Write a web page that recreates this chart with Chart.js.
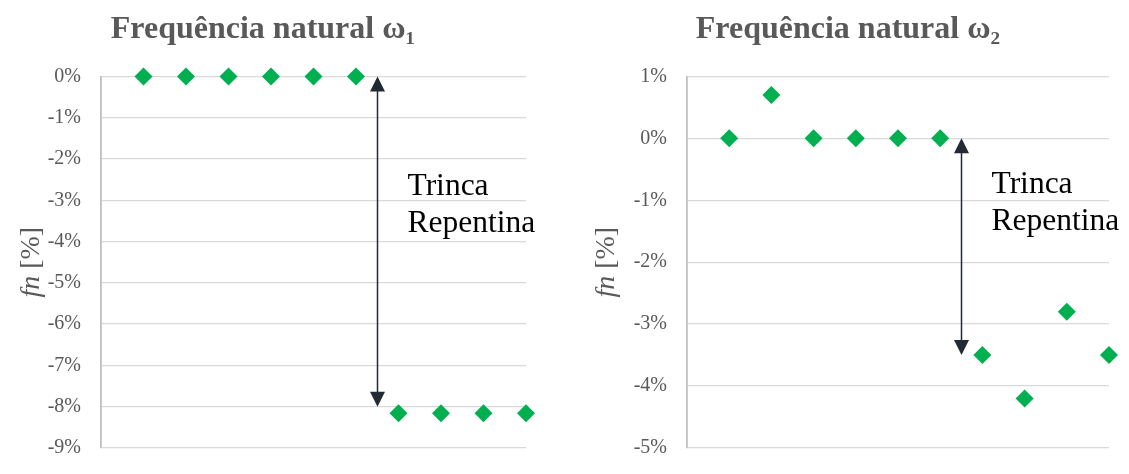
<!DOCTYPE html>
<html>
<head>
<meta charset="utf-8">
<script src="https://cdn.jsdelivr.net/npm/chart.js@4.4.1/dist/chart.umd.min.js"></script>
<style>
  html, body { margin: 0; padding: 0; background: #fff; }
  #wrap { position: relative; width: 1129px; height: 474px; }
  .box { position: absolute; top: 0; height: 474px; }
  #box1 { left: 0; width: 560px; }
  #box2 { left: 560px; width: 569px; }
</style>
</head>
<body>
<div id="wrap">
  <div class="box" id="box1"><canvas id="chart1"></canvas></div>
  <div class="box" id="box2"><canvas id="chart2"></canvas></div>
</div>
<script>
// --- dados ---
const xPos = [1, 2, 3, 4, 5, 6, 7, 8, 9, 10];
const fn1Values = [0, 0, 0, 0, 0, 0, -8.16, -8.16, -8.16, -8.16];
const fn2Values = [0, 0.7, 0, 0, 0, 0, -3.5, -4.2, -2.8, -3.5];

const title1 = 'Frequência natural ω₁';
const title2 = 'Frequência natural ω₂';
const yRange1 = [-9, 0];
const yRange2 = [-5, 1];

// seta "trinca repentina": posição x e valores de início/fim
const arrow1 = [6.5, 0, -8];
const arrow2 = [6.5, 0, -3.5];
const noteLines = ['Trinca', 'Repentina'];

const grey = '#595959';
const green = '#00b050';
const serif = '"Liberation Serif", "Times New Roman", serif';

// desenha seta, texto e título do eixo y (fn em itálico)
const annotPlugin = {
    id: 'annot',
    afterDatasetsDraw(chart, args, opts) {
        const ctx = chart.ctx;
        const xs = chart.scales.x, ys = chart.scales.y;
        const ax = Math.round(xs.getPixelForValue(opts.arrow[0])) + 0.5;
        const y0 = ys.getPixelForValue(opts.arrow[1]);
        const y1 = ys.getPixelForValue(opts.arrow[2]);
        const head = 15, hw = 7.5;
        ctx.save();
        ctx.strokeStyle = '#222a35';
        ctx.fillStyle = '#222a35';
        ctx.lineWidth = 1.5;
        ctx.beginPath();
        ctx.moveTo(ax, y0 + head - 1);
        ctx.lineTo(ax, y1 - head + 1);
        ctx.stroke();
        ctx.beginPath();
        ctx.moveTo(ax, y0);
        ctx.lineTo(ax - hw, y0 + head);
        ctx.lineTo(ax + hw, y0 + head);
        ctx.closePath();
        ctx.fill();
        ctx.beginPath();
        ctx.moveTo(ax, y1);
        ctx.lineTo(ax - hw, y1 - head);
        ctx.lineTo(ax + hw, y1 - head);
        ctx.closePath();
        ctx.fill();

        // texto
        ctx.fillStyle = '#000';
        ctx.font = '31.5px ' + serif;
        ctx.textAlign = 'left';
        ctx.textBaseline = 'alphabetic';
        noteLines.forEach((t, i) => {
            ctx.fillText(t, ax + opts.textDx, chart.chartArea.top + opts.textDy + i * 37);
        });

        // título do eixo y
        const midY = (chart.chartArea.top + chart.chartArea.bottom) / 2;
        ctx.translate(opts.yTitleX, midY);
        ctx.rotate(-Math.PI / 2);
        ctx.fillStyle = grey;
        ctx.textBaseline = 'middle';
        const fItal = 'italic 28px ' + serif;
        const fReg = '28px ' + serif;
        ctx.font = fItal;
        const w1 = ctx.measureText('fn').width;
        ctx.font = fReg;
        const w2 = ctx.measureText(' [%]').width;
        const start = -(w1 + w2) / 2;
        ctx.font = fItal;
        ctx.fillText('fn', start, 0);
        ctx.font = fReg;
        ctx.fillText(' [%]', start + w1, 0);
        ctx.restore();
    }
};

function makeChart(id, title, values, yRange, arrow, pad, yWidth, annot) {
    const points = xPos.map((x, i) => ({ x: x, y: values[i] }));
    return new Chart(document.getElementById(id), {
        type: 'scatter',
        data: {
            datasets: [{
                data: points,
                pointStyle: 'rectRot',
                pointRadius: 9,
                pointHoverRadius: 9,
                backgroundColor: green,
                borderColor: green,
                borderWidth: 0,
                clip: false
            }]
        },
        options: {
            responsive: true,
            maintainAspectRatio: false,
            animation: false,
            layout: { padding: pad, autoPadding: false },
            plugins: {
                legend: { display: false },
                tooltip: { enabled: false },
                title: {
                    display: true,
                    text: title,
                    color: grey,
                    font: { family: serif, size: 32, weight: 'bold', lineHeight: 1.2 },
                    padding: { top: 11, bottom: 27 }
                },
                annot: Object.assign({ arrow: arrow }, annot)
            },
            scales: {
                x: { type: 'linear', display: false, min: 0, max: 10 },
                y: {
                    min: yRange[0],
                    max: yRange[1],
                    afterFit: (s) => {
                        s.width = yWidth;
                        s.paddingTop = 0;
                        s.paddingBottom = 0;
                    },
                    ticks: {
                        stepSize: 1,
                        padding: 20,
                        color: grey,
                        font: { family: serif, size: 20 },
                        callback: (v) => (v === 0 ? 0 : v) + '%'
                    },
                    grid: { color: '#d9d9d9', lineWidth: 1.3, drawTicks: false },
                    border: { color: '#bfbfbf', width: 1.8 }
                }
            }
        },
        plugins: [annotPlugin]
    });
}

makeChart('chart1', title1, fn1Values, yRange1, arrow1,
    { left: 0, right: 34, top: 0, bottom: 26 }, 101,
    { textDx: 30, textDy: 119, yTitleX: 32 });
makeChart('chart2', title2, fn2Values, yRange2, arrow2,
    { left: 27, right: 20, top: 0, bottom: 26 }, 100,
    { textDx: 30, textDy: 117, yTitleX: 47 });
</script>
</body>
</html>
